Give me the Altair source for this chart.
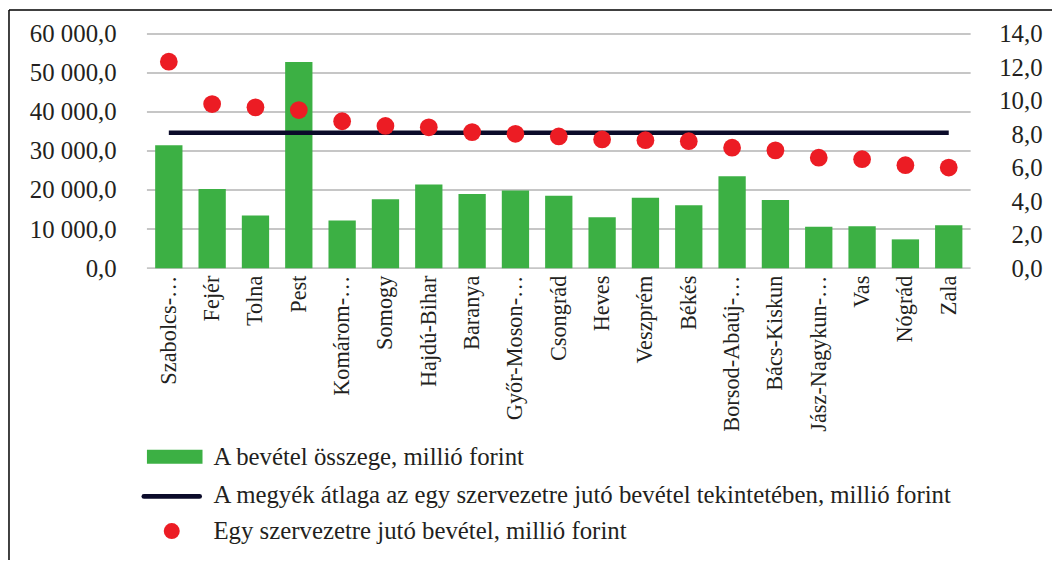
import altair as alt
import pandas as pd

counties = ["Szabolcs-…", "Fejér", "Tolna", "Pest", "Komárom-…", "Somogy", "Hajdú-Bihar",
            "Baranya", "Győr-Moson-…", "Csongrád", "Heves", "Veszprém", "Békés",
            "Borsod-Abaúj-…", "Bács-Kiskun", "Jász-Nagykun-…", "Vas", "Nógrád", "Zala"]
revenue = [31450, 20260, 13470, 52800, 12200, 17620, 21430, 18990, 19910, 18560,
           13050, 18050, 16100, 23560, 17460, 10600, 10760, 7370, 11010]
per_org = [12.34, 9.81, 9.61, 9.45, 8.78, 8.50, 8.42, 8.13, 8.03, 7.87, 7.69,
           7.65, 7.59, 7.20, 7.04, 6.60, 6.51, 6.15, 6.01]
county_avg = 8.09
left_ticks = [0, 10000, 20000, 30000, 40000, 50000, 60000]
right_ticks = [0, 2, 4, 6, 8, 10, 12, 14]

legend_labels = ["A bevétel összege, millió forint",
                 "A megyék átlaga az egy szervezetre jutó bevétel tekintetében, millió forint",
                 "Egy szervezetre jutó bevétel, millió forint"]

df = pd.DataFrame({"megye": counties, "bevetel": revenue, "egy": per_org,
                   "atlag": [county_avg] * len(counties)})
grid_df = pd.DataFrame({"v": left_ticks})
leg_df = pd.DataFrame({"t": legend_labels, "i": [0, 1, 2]})

FONT = "Liberation Serif"
TXT = "#231f20"
GREEN = "#3cb044"
RED = "#ec1c24"
NAVY = "#0b0b2a"

xaxis = alt.Axis(labelAngle=270, labelAlign="right", labelBaseline="middle",
                 labelPadding=7, ticks=False, domain=False, grid=False, labelFontSize=22.5,
                 labelFont=FONT, labelColor=TXT, labelLimit=300)
xscale = alt.Scale(paddingInner=0.37, paddingOuter=0.19, range=[0, 830])
lscale = alt.Scale(domain=[0, 60000], nice=False)
rscale = alt.Scale(domain=[0, 14], nice=False)

grid = alt.Chart(grid_df).mark_rule(color="#c6c6c6", strokeWidth=2).encode(
    y=alt.Y("v:Q", title=None, scale=lscale,
            axis=alt.Axis(values=left_ticks,
                          labelExpr="replace(replace(format(datum.value, ',.1f'), ',', ' '), '.', ',')",
                          ticks=False, domain=False, grid=False, labelPadding=31,
                          labelFontSize=25, labelFont=FONT, labelColor=TXT)),
    x=alt.value(0), x2=alt.value(830))

bars = alt.Chart(df).mark_bar(color=GREEN).encode(
    x=alt.X("megye:N", sort=counties, title=None, scale=xscale, axis=xaxis),
    y=alt.Y("bevetel:Q", scale=lscale, axis=None))

avg_line = alt.Chart(df).mark_line(color=NAVY, strokeWidth=4.5).encode(
    x=alt.X("megye:N", sort=counties, title=None, scale=xscale, axis=xaxis),
    y=alt.Y("atlag:Q", axis=None, scale=rscale))

dots = alt.Chart(df).mark_circle(color=RED, opacity=1, size=320).encode(
    x=alt.X("megye:N", sort=counties, title=None, scale=xscale, axis=xaxis),
    y=alt.Y("egy:Q", title=None, scale=rscale,
            axis=alt.Axis(orient="right", values=right_ticks,
                          labelExpr="replace(format(datum.value, '.1f'), '.', ',')",
                          ticks=False, domain=False, grid=False,
                          labelAlign="right", labelPadding=-10, labelFontSize=25,
                          labelFont=FONT, labelColor=TXT)))


def first(df_):
    return alt.Chart(df_).transform_filter("datum.i == 0")


leg_rect = first(leg_df).mark_rect(color=GREEN).encode(
    x=alt.value(0), x2=alt.value(56), y=alt.value(419), y2=alt.value(433))
leg_line = first(leg_df).mark_rule(color=NAVY, strokeWidth=5, strokeCap="round").encode(
    x=alt.value(-3), x2=alt.value(53), y=alt.value(466))
leg_dot = first(leg_df).mark_circle(color=RED, opacity=1, size=260).encode(
    x=alt.value(25), y=alt.value(501))

texts = []
for i, yy in enumerate([426, 465, 501]):
    texts.append(alt.Chart(leg_df).transform_filter("datum.i == %d" % i).mark_text(
        align="left", baseline="middle", font=FONT, fontSize=25, color=TXT).encode(
        x=alt.value(67), y=alt.value(yy), text="t:N"))

frame_top = first(leg_df).mark_rule(color="#000000", strokeWidth=1.5).encode(
    x=alt.value(-139), x2=alt.value(912), y=alt.value(-24))
frame_left = first(leg_df).mark_rule(color="#000000", strokeWidth=1.5).encode(
    x=alt.value(-139), y=alt.value(-24), y2=alt.value(530))

chart = alt.layer(grid, bars, avg_line, dots, leg_rect, leg_line, leg_dot, *texts,
                  frame_top, frame_left).resolve_scale(y="independent").properties(
    width=912, height=236,
    background="white",
    autosize=alt.AutoSizeParams(type="none"),
    padding={"left": 140, "top": 24, "right": 0, "bottom": 294},
).configure(
    view=alt.ViewConfig(stroke="transparent", strokeWidth=0),
    style={"cell": {"stroke": "transparent", "strokeWidth": 0}},
    axis=alt.AxisConfig(domain=False, ticks=False, grid=False),
)

chart.save("out.html", embed_options={"renderer": "svg", "actions": False})
